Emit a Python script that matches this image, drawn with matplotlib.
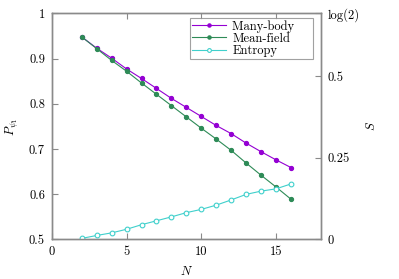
import matplotlib
matplotlib.use('Agg')
import matplotlib.pyplot as plt
import numpy as np

plt.rcParams['font.family'] = 'serif'
plt.rcParams['font.serif'] = ['cmr10', 'DejaVu Serif']
plt.rcParams['mathtext.fontset'] = 'cm'
plt.rcParams['axes.unicode_minus'] = False

# System size
N = np.arange(2, 17)

# Overlap probability, left axis
many_body = [0.948, 0.923, 0.901, 0.877, 0.856, 0.834, 0.812, 0.792, 0.772,
             0.752, 0.734, 0.713, 0.694, 0.676, 0.659]
mean_field = [0.948, 0.922, 0.896, 0.872, 0.846, 0.821, 0.796, 0.771, 0.746,
              0.722, 0.697, 0.669, 0.642, 0.616, 0.589]

# Entanglement entropy, right axis (0 .. log 2)
entropy = [0.003, 0.012, 0.020, 0.031, 0.045, 0.057, 0.069, 0.082, 0.092,
           0.105, 0.121, 0.138, 0.148, 0.155, 0.170]

c_mb = '#9400d3'
c_mf = '#2e8b57'
c_ent = '#40d0cc'
grey = '#8a8a8a'

fig = plt.figure(figsize=(3.99, 2.79), dpi=100)
ax = fig.add_axes([0.130, 0.142, 0.674, 0.810])
ax2 = ax.twinx()

l1, = ax.plot(N, many_body, color=c_mb, lw=0.8, marker='o', ms=2.8,
              label='Many-body    ')
l2, = ax.plot(N, mean_field, color=c_mf, lw=0.8, marker='o', ms=2.8,
              label='Mean-field')
l3, = ax2.plot(N, entropy, color=c_ent, lw=0.8, marker='o', ms=3.4,
               mfc='white', mew=0.8, label='Entropy')

ax.set_xlim(0, 18)
ax.set_ylim(0.5, 1.0)
ax2.set_ylim(0, np.log(2))

ax.set_xticks([0, 5, 10, 15])
ax.set_xticklabels(['0', '5', '10', '15'])
ax.set_yticks([0.5, 0.6, 0.7, 0.8, 0.9, 1.0])
ax.set_yticklabels(['0.5', '0.6', '0.7', '0.8', '0.9', '1'])
ax2.set_yticks([0, 0.25, 0.5, np.log(2)])
ax2.set_yticklabels(['0', '0.25', '0.5', 'log(2)'])

for a in (ax, ax2):
    for s in a.spines.values():
        s.set_color(grey)
        s.set_linewidth(1.0)
ax.tick_params(axis='both', direction='in', length=4, width=0.8, color=grey,
               labelsize=9, top=True, pad=5)
ax2.tick_params(axis='y', direction='in', length=4, width=0.8, color=grey,
                labelsize=9, pad=5)

ax.set_xlabel('$N$', fontsize=9, labelpad=5)
ax.set_ylabel(r'$P_{\psi_1}$', fontsize=9, labelpad=6)
ax2.set_ylabel('$S$', fontsize=9, rotation=90, labelpad=4)

leg = ax.legend(handles=[l1, l2, l3], loc='upper right',
                bbox_to_anchor=(0.98, 0.99), fontsize=9, frameon=True,
                fancybox=False, edgecolor=grey, handlelength=2.7,
                borderpad=0.15, labelspacing=0.0, handletextpad=0.55,
                borderaxespad=0.2, markerscale=0.8)
leg.get_frame().set_linewidth(0.8)

fig.savefig('out.png', dpi=100)
